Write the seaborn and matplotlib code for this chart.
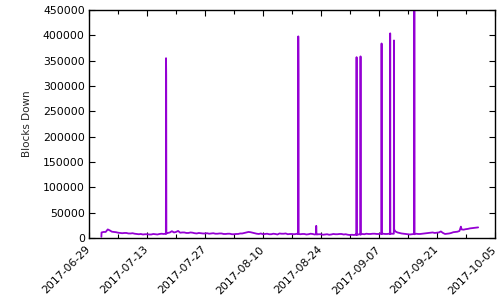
import matplotlib
matplotlib.use("Agg")
import matplotlib.pyplot as plt
import seaborn as sns
import pandas as pd

# ---- data ----
# baseline sampled twice a day, starting 2017-07-02 01:00
base_start = "2017-07-02 01:00"
base_values = [
    11000, 12000, 12000, 17000, 15000, 12500, 12000, 11500, 10500, 10000,
    9500, 10000, 10000, 9000, 9000, 9500, 8500, 8000, 7500, 8000,
    7000, 7500, 7500, 7000, 7000, 8000, 7500, 7000, 8000, 8500,
    8000, 8500, 10000, 11000, 13500, 11000, 12000, 14000, 10500, 11000,
    11000, 10000, 10000, 11000, 10500, 9500, 9000, 10000, 9500, 9000,
    9000, 9500, 8500, 9000, 9500, 8500, 8500, 9000, 9000, 8000,
    8000, 8500, 8500, 7500, 7500, 8000, 8000, 9000, 9000, 10000,
    11000, 12000, 11500, 10500, 9500, 8500, 8000, 9000, 7500, 8000,
    8500, 7500, 7500, 8500, 8000, 7000, 9000, 8500, 8500, 9000,
    7500, 8000, 8000, 7500, 8000, 9000, 7500, 8000, 8000, 7000,
    7500, 8500, 8000, 7000, 7000, 7500, 7500, 6500, 7000, 7500,
    6500, 7000, 8000, 7500, 7500, 8000, 8000, 7000, 7500, 6500,
    6000, 6500, 6000, 7000, 7000, 7500, 8000, 7500, 8500, 8000,
    8000, 8500, 8500, 8000, 8000, 8500, 8500, 8000, 8000, 8500,
    8500, 8500, 13000, 11000, 10000, 9000, 8500, 8000, 7500, 7000,
    7500, 8000, 8500, 8000, 8000, 8500, 9000, 9500, 10000, 10500,
    11000, 10000, 10500, 11000, 13000, 10000, 8000, 8500, 9000, 10000,
    11500, 12000, 12500, 14000, 17000, 16500, 17500, 18000, 19000, 19500,
    20000, 20500, 21000,
]

event_times = [
    "2017-07-02 00:00",
    "2017-07-17 14:00", "2017-07-17 15:00", "2017-07-17 16:00", "2017-07-17 17:00",
    "2017-08-18 13:00", "2017-08-18 14:00", "2017-08-18 15:00", "2017-08-18 16:00",
    "2017-08-22 21:00", "2017-08-22 22:00", "2017-08-22 23:30",
    "2017-09-01 15:00", "2017-09-01 16:00", "2017-09-01 17:00",
    "2017-09-02 14:00", "2017-09-02 15:00", "2017-09-02 16:00",
    "2017-09-07 16:00", "2017-09-07 17:00", "2017-09-07 18:00",
    "2017-09-09 18:00", "2017-09-09 19:00", "2017-09-09 20:00",
    "2017-09-10 16:00", "2017-09-10 17:00", "2017-09-10 18:00",
    "2017-09-15 14:00", "2017-09-15 15:00", "2017-09-15 16:00",
    "2017-09-26 21:00",
]
event_values = [
    2500,
    8000, 355000, 322000, 9000,
    8000, 398000, 322000, 8000,
    7500, 24000, 7500,
    6000, 357000, 6000,
    7000, 358500, 7000,
    8000, 384000, 8000,
    8000, 404000, 8000,
    8500, 390000, 17000,
    7500, 480000, 7500,
    22500,
]

x_start, x_end = "2017-06-29", "2017-10-05"
y_ticks = [0, 50000, 100000, 150000, 200000, 250000, 300000, 350000, 400000, 450000]

base_times = pd.date_range(base_start, periods=len(base_values), freq="12h")
df = pd.concat([
    pd.DataFrame({"time": base_times, "blocks": base_values}),
    pd.DataFrame({"time": pd.to_datetime(event_times), "blocks": event_values}),
]).sort_values("time", kind="stable").reset_index(drop=True)

# ---- plot ----
sns.set_style("ticks")
plt.rcParams["font.family"] = ["DejaVu Sans"]
fig = plt.figure(figsize=(4.97, 3.04), dpi=100)
ax = fig.add_axes([0.179, 0.217, 0.816, 0.750])

sns.lineplot(data=df, x="time", y="blocks", ax=ax, color="#9400d3",
             linewidth=1.3, estimator=None, sort=False)

ax.set_xlim(pd.Timestamp(x_start), pd.Timestamp(x_end))
ax.set_ylim(y_ticks[0], y_ticks[-1])
ax.set_yticks(y_ticks)
ax.set_yticklabels([str(v) for v in y_ticks])

major = pd.date_range(x_start, x_end, freq="14D")
minor = pd.date_range(x_start, x_end, freq="7D")
ax.set_xticks(major)
ax.set_xticks(minor, minor=True)
ax.set_xticklabels([d.strftime("%Y-%m-%d") for d in major])

ax.set_xlabel("")
ax.set_ylabel("Blocks Down", fontsize=7.5, labelpad=8)
for s in ax.spines.values():
    s.set_visible(True)
    s.set_linewidth(1.0)
    s.set_color("black")

ax.tick_params(axis="both", which="both", direction="in", top=True, right=True,
               labelsize=7.8, colors="black", width=0.8)
ax.tick_params(axis="both", which="major", length=4)
ax.tick_params(axis="x", which="minor", length=3)
ax.tick_params(axis="x", which="major", pad=7)
ax.tick_params(axis="y", which="major", pad=3)
for lbl in ax.get_xticklabels():
    lbl.set_rotation(45)
    lbl.set_ha("right")
    lbl.set_va("center")
    lbl.set_rotation_mode("anchor")

fig.savefig("out.png", dpi=100)
